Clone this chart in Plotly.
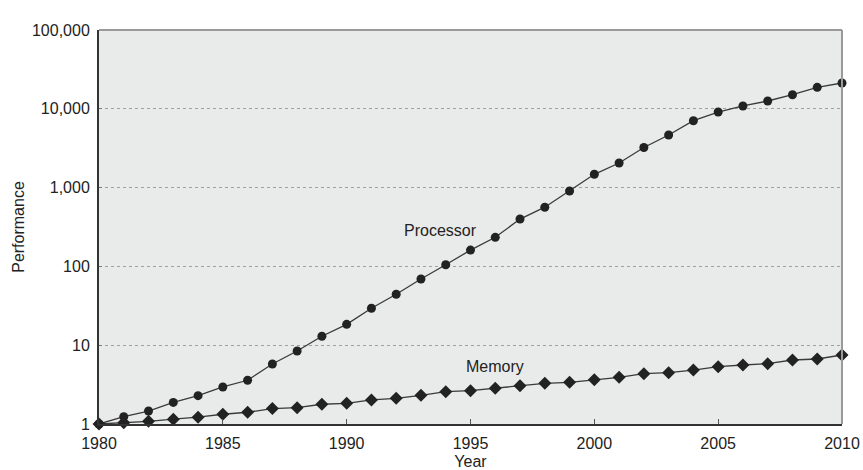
import plotly.graph_objects as go

years = list(range(1980, 2011))
processor = [1, 1.24, 1.46, 1.88, 2.29, 2.95, 3.59, 5.77, 8.44, 13.0, 18.4,
             29.4, 44.3, 69.2, 105, 161, 234, 399, 564, 906, 1475,
             2052, 3230, 4650, 7060, 9100, 10860, 12560, 15100, 18740, 21250]
memory = [1, 1.04, 1.08, 1.15, 1.22, 1.33, 1.41, 1.57, 1.61, 1.78, 1.83,
          2.02, 2.12, 2.31, 2.57, 2.65, 2.84, 3.06, 3.28, 3.38, 3.65,
          3.91, 4.35, 4.48, 4.84, 5.34, 5.61, 5.82, 6.49, 6.68, 7.51]
y_tickvals = [1, 10, 100, 1000, 10000, 100000]
y_ticktext = ["1", "10", "100", "1,000", "10,000", "100,000"]
x_tickvals = [1980, 1985, 1990, 1995, 2000, 2005, 2010]

FONT = "Liberation Sans, Arial, sans-serif"
INK = "#222222"

fig = go.Figure()
fig.add_trace(go.Scatter(
    x=years, y=processor, mode="lines+markers", name="Processor",
    line=dict(color="#3a3a3a", width=1.3),
    marker=dict(symbol="circle", size=9, color=INK),
    cliponaxis=False,
))
fig.add_trace(go.Scatter(
    x=years, y=memory, mode="lines+markers", name="Memory",
    line=dict(color="#3a3a3a", width=1.3),
    marker=dict(symbol="diamond", size=10, color=INK),
    cliponaxis=False,
))

fig.add_annotation(x=1993.77, y=2.46, xref="x", yref="y", text="Processor",
                   showarrow=False, font=dict(family=FONT, size=16, color=INK))
fig.add_annotation(x=1996.0, y=0.736, xref="x", yref="y", text="Memory",
                   showarrow=False, font=dict(family=FONT, size=16, color=INK))

# gray top/right frame
fig.add_shape(type="line", xref="paper", yref="paper", x0=0, x1=1, y0=1, y1=1,
              line=dict(color="#9a9a9a", width=2), layer="above")
fig.add_shape(type="line", xref="paper", yref="paper", x0=1, x1=1, y0=0, y1=1,
              line=dict(color="#9a9a9a", width=2), layer="above")

fig.update_layout(
    width=863, height=470,
    margin=dict(l=99, r=21, t=30, b=46, autoexpand=False),
    paper_bgcolor="white",
    plot_bgcolor="#e9eaea",
    showlegend=False,
    font=dict(family=FONT, size=16, color=INK),
)
fig.update_xaxes(
    range=[1980, 2010], tickvals=x_tickvals,
    showgrid=False, zeroline=False, automargin=False,
    showline=True, linecolor="#333333", linewidth=2,
    ticks="inside", ticklen=5, tickcolor="#555555",
    ticklabelstandoff=4,
    title=dict(text="Year", standoff=10, font=dict(size=16)),
)
fig.update_yaxes(
    type="log", range=[0, 5], tickvals=y_tickvals, ticktext=y_ticktext,
    showgrid=True, gridcolor="#a0a0a0", griddash="dot", gridwidth=1,
    zeroline=False, automargin=False,
    showline=True, linecolor="#333333", linewidth=2,
    ticks="inside", ticklen=3, tickcolor="#777777",
    ticklabelstandoff=4,
    title=dict(text="Performance", standoff=3, font=dict(size=16)),
)

fig.write_html("out.html",
               config={"displayModeBar": False},
               post_script="document.body.style.margin='0px';document.body.style.overflow='hidden';")
